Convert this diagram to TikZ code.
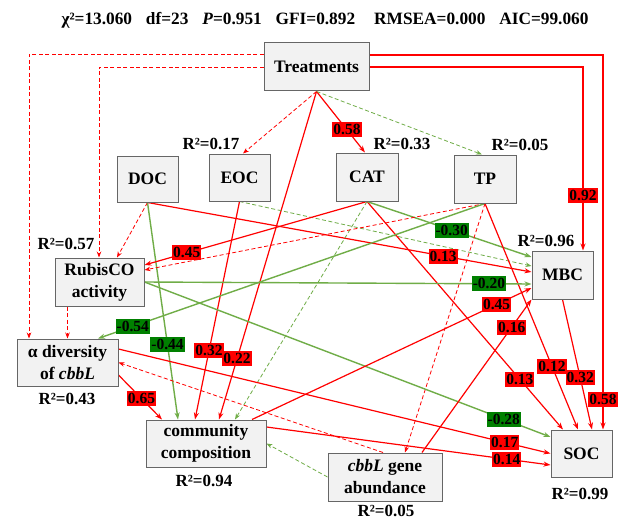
\documentclass[tikz,border=0pt]{standalone}
\usepackage{fontspec}
\setmainfont{Liberation Serif}
\usetikzlibrary{arrows.meta,calc}
\definecolor{boxfill}{HTML}{F2F2F2}
\definecolor{boxdraw}{HTML}{666666}
\definecolor{lred}{HTML}{FF0000}
\definecolor{lgreen}{HTML}{70AD47}
\definecolor{dgreen}{HTML}{008000}
\pgfdeclarelayer{bg}
\pgfdeclarelayer{paper}
\pgfsetlayers{paper,bg,main}
\begin{document}
\begin{tikzpicture}[x=1pt,y=-1pt,
  box/.style={draw=boxdraw, fill=boxfill, line width=1pt, font=\fontsize{17.5}{22}\selectfont\bfseries, align=center, inner sep=0pt},
  rsq/.style={font=\fontsize{17}{20}\selectfont\bfseries, inner sep=0pt},
  redline/.style={draw=lred, line width=1.2pt, -{Stealth[length=7pt,width=5pt]}},
  reddash/.style={draw=lred, line width=0.8pt, dash pattern=on 4pt off 2.5pt, -{Stealth[length=6pt,width=4.5pt]}},
  greenline/.style={draw=lgreen, line width=1.4pt, -{Stealth[length=7pt,width=5pt]}},
  greendash/.style={draw=lgreen, line width=0.8pt, dash pattern=on 4pt off 2.5pt, -{Stealth[length=6pt,width=4.5pt]}},
  rlab/.style={fill=lred, text=black, font=\fontsize{15.5}{16}\selectfont\bfseries, inner xsep=1pt, inner ysep=0pt, minimum height=15pt},
  glab/.style={fill=dgreen, text=black, font=\fontsize{15.5}{16}\selectfont\bfseries, inner xsep=1pt, inner ysep=0pt, minimum height=15pt}
]
\begin{pgfonlayer}{paper}
\fill[white] (0,0) rectangle (627,519);
\end{pgfonlayer}
\useasboundingbox (0,0) rectangle (627,519);

% title
\node[font=\fontsize{17.3}{18}\selectfont\bfseries, inner sep=0pt] (title) at (325,20)
  {χ²=13.060\hspace{0.8em}df=23\hspace{0.8em}\textit{P}=0.951\hspace{0.8em}GFI=0.892\hspace{1.1em}RMSEA=0.000\hspace{0.8em}AIC=99.060};

% boxes
\node[box, minimum width=105pt, minimum height=48pt] (Treat) at (316.5,67) {Treatments};
\node[box, minimum width=61pt, minimum height=46pt] (DOC) at (147.5,179) {DOC};
\node[box, minimum width=61pt, minimum height=47pt] (EOC) at (239.5,177.5) {EOC};
\node[box, minimum width=62pt, minimum height=48pt] (CAT) at (367,177) {CAT};
\node[box, minimum width=62pt, minimum height=48pt] (TP) at (485,179) {TP};
\node[box, minimum width=89pt, minimum height=48pt] (Rub) at (99.5,282) {RubisCO\\activity};
\node[box, minimum width=61pt, minimum height=48pt] (MBC) at (562.5,275) {MBC};
\node[box, minimum width=101pt, minimum height=47pt] (alpha) at (67.5,362.5) {α diversity\\of \textit{cbbL}};
\node[box, minimum width=120pt, minimum height=47pt] (comm) at (206,443.5) {community\\composition};
\node[box, minimum width=114pt, minimum height=48pt] (cbbL) at (385,477) {\textit{cbbL} gene\\abundance};
\node[box, minimum width=61pt, minimum height=47pt] (SOC) at (581.5,453.5) {SOC};

% R2 labels
\node[rsq] (rEOC) at (211,144) {R²=0.17};
\node[rsq] (rCAT) at (402,144) {R²=0.33};
\node[rsq] (rTP) at (520,145) {R²=0.05};
\node[rsq] (rRub) at (66,244) {R²=0.57};
\node[rsq] (rMBC) at (546,241) {R²=0.96};
\node[rsq] (ralpha) at (67,399) {R²=0.43};
\node[rsq] (rcomm) at (204,481) {R²=0.94};
\node[rsq] (rcbbL) at (386,510.5) {R²=0.05};
\node[rsq] (rSOC) at (580,494) {R²=0.99};

\begin{pgfonlayer}{bg}
% Treatments
\draw[reddash] ([yshift=13pt]Treat.west) -| ([xshift=-38.5pt]alpha.north);
\draw[reddash] (Treat.west) -| ([xshift=-0.5pt]Rub.north);
\draw[reddash] (Treat.south) -- ([xshift=3.5pt]EOC.north);
\draw[redline] (Treat.south) -- coordinate[pos=0.815] (l22) ([xshift=13pt]comm.north);
\draw[redline] (Treat.south) -- coordinate[pos=0.63] (l58a) ([xshift=-2pt]CAT.north);
\draw[greendash] (Treat.south) -- ([xshift=-3pt]TP.north);
\draw[redline] ([yshift=12pt]Treat.east) -| coordinate[pos=0.96] (l58b) ([xshift=21.5pt]SOC.north);
\draw[redline] (Treat.east) -| coordinate[pos=0.85] (l92) ([xshift=20.5pt]MBC.north);
% DOC
\draw[reddash] (DOC.south) -- ([xshift=17.5pt]Rub.north);
\draw[greenline] (DOC.south) -- coordinate[pos=0.656] (l44) ([xshift=-28pt]comm.north);
\draw[redline] (DOC.south) -- coordinate[pos=0.77] (l13a) ([yshift=3pt]MBC.west);
% EOC
\draw[redline] (EOC.south) -- coordinate[pos=0.685] (l32a) ([xshift=-11pt]comm.north);
\draw[greendash] (EOC.south) -- ([yshift=9pt]MBC.west);
% CAT
\draw[redline] (CAT.south) -- coordinate[pos=0.81] (l45a) ([yshift=17pt]Rub.east);
\draw[greendash] (CAT.south) -- ([xshift=29pt]comm.north);
\draw[redline] (CAT.south) -- coordinate[pos=0.78] (l13b) ([xshift=-18.5pt]SOC.north);
\draw[greenline] (CAT.south) -- coordinate[pos=0.515] (l30) ([yshift=18pt]MBC.west);
% TP
\draw[reddash] (TP.south) -- ([yshift=12pt]Rub.east);
\draw[greenline] (TP.south) -- coordinate[pos=0.91] (l54) ([xshift=30.5pt]alpha.north);
\draw[reddash] (TP.south) -- ([xshift=20pt]cbbL.north);
\draw[redline] (TP.south) -- coordinate[pos=0.72] (l12) ([xshift=-3.5pt]SOC.north);
% RubisCO
\draw[reddash] (Rub.south -| alpha.north) -- (alpha.north);
\draw[greenline] (Rub.east) -- coordinate[pos=0.89] (l20) ([yshift=-9pt]MBC.west);
\draw[greenline] (Rub.east) -- coordinate[pos=0.885] (l28) ([yshift=16.5pt]SOC.west);
% alpha
\draw[redline] ([yshift=-12.5pt]alpha.east) -- coordinate[pos=0.53] (l65) ([xshift=-44pt]comm.north);
\draw[redline] ([yshift=13.5pt]alpha.east) -- coordinate[pos=0.894] (l17) (SOC.west);
% cbbL
\draw[reddash] ([xshift=-2pt]cbbL.north) -- (alpha.east);
\draw[greendash] (cbbL.west) -- (comm.east);
\draw[redline] ([xshift=37pt]cbbL.north) -- coordinate[pos=0.82] (l16) (MBC.south west);
% community
\draw[redline] ([xshift=46pt]comm.north) -- coordinate[pos=0.875] (l45b) ([yshift=-13pt]MBC.west);
\draw[redline] ([yshift=16.5pt]comm.east) -- coordinate[pos=0.846] (l14) ([yshift=-11.5pt]SOC.west);
% MBC
\draw[redline] (MBC.south) -- coordinate[pos=0.6] (l32b) ([xshift=10.5pt]SOC.north);
\end{pgfonlayer}

% coefficient labels
\node[rlab] at (l58a) {0.58};
\node[rlab] at (l92) {0.92};
\node[rlab] at (l58b) {0.58};
\node[rlab] at (l22) {0.22};
\node[glab] at (l44) {-0.44};
\node[rlab] at (l13a) {0.13};
\node[rlab] at (l32a) {0.32};
\node[rlab] at (l45a) {0.45};
\node[rlab] at (l13b) {0.13};
\node[glab] at (l30) {-0.30};
\node[glab] at (l54) {-0.54};
\node[rlab] at (l12) {0.12};
\node[glab] at (l20) {-0.20};
\node[glab] at (l28) {-0.28};
\node[rlab] at (l65) {0.65};
\node[rlab] at (l17) {0.17};
\node[rlab] at (l16) {0.16};
\node[rlab] at (l45b) {0.45};
\node[rlab] at (l14) {0.14};
\node[rlab] at (l32b) {0.32};
\end{tikzpicture}
\end{document}
